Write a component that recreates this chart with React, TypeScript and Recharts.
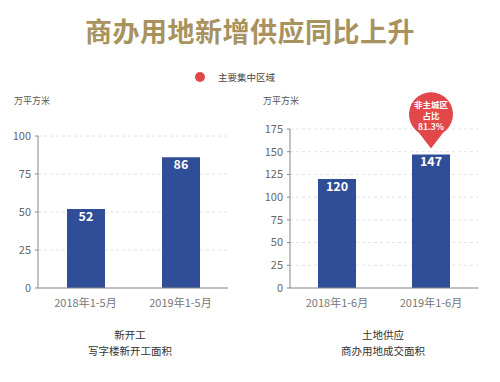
import React from "react";
import { BarChart, Bar, XAxis, YAxis, CartesianGrid, LabelList } from "recharts";

const leftCategories = ["2018年1-5月", "2019年1-5月"];
const leftValues = [52, 86];
const leftTicks = [0, 25, 50, 75, 100];

const rightCategories = ["2018年1-6月", "2019年1-6月"];
const rightValues = [120, 147];
const rightTicks = [0, 25, 50, 75, 100, 125, 150, 175];

const balloonLines = ["非主城区", "占比", "81.3%"];
const balloonIndex = 1;

const leftData = leftCategories.map((c, i) => ({ name: c, value: leftValues[i] }));
const rightData = rightCategories.map((c, i) => ({ name: c, value: rightValues[i] }));

const FONT = '"Noto Sans CJK SC", "Noto Sans", sans-serif';
const BAR = "#2f4e97";
const RED = "#e2474a";

const Balloon = (props: any) => {
  const { x, y, width, index } = props;
  if (index !== balloonIndex) return null;
  const cx = x + width / 2;
  const cy = y - 40;
  const r = 22;
  const tip = y - 6;
  const path = `M ${cx - r * 0.55} ${cy + r * 0.83} A ${r} ${r} 0 1 1 ${cx + r * 0.55} ${cy + r * 0.83} L ${cx} ${tip} Z`;
  return (
    <g>
      <path d={path} fill={RED} />
      {balloonLines.map((t, i) => (
        <text key={i} x={cx} y={cy - 9 + i * 11} textAnchor="middle" dominantBaseline="middle" fill="#fff" fontSize={8.5} fontWeight="bold" fontFamily={FONT}>
          {t}
        </text>
      ))}
    </g>
  );
};

const Panel = (p: { data: any[]; ticks: number[]; max: number; top: number; left: number; balloon?: boolean }) => (
  <div style={{ position: "absolute", left: p.left, top: 0 }}>
    <BarChart width={250} height={382} data={p.data} margin={{ top: p.top, right: 22, bottom: 64, left: 0 }} barCategoryGap="20%">
      <CartesianGrid vertical={false} stroke="#e2e2e2" strokeDasharray="3 3" />
      <XAxis dataKey="name" height={30} tickLine={false} axisLine={{ stroke: "#888" }} tick={{ fill: "#777", fontSize: 11, fontFamily: FONT }} tickMargin={5} interval={0} />
      <YAxis width={p.left === 0 ? 38 : 40} domain={[0, p.max]} ticks={p.ticks} tickSize={3} tickLine={{ stroke: "#888" }} axisLine={{ stroke: "#888" }} tick={{ fill: "#666", fontSize: 11, fontFamily: FONT }} tickMargin={4} interval={0} />
      <Bar dataKey="value" fill={BAR} barSize={38} isAnimationActive={false}>
        <LabelList dataKey="value" position="insideTop" offset={3} fill="#fff" fontSize={12.5} fontWeight="bold" fontFamily={FONT} />
        {p.balloon ? <LabelList dataKey="value" content={Balloon} /> : null}
      </Bar>
    </BarChart>
  </div>
);

export default function App() {
  return (
    <div style={{ position: "relative", width: 500, height: 382, background: "#fff", fontFamily: FONT, margin: -8 }}>
      <div style={{ position: "absolute", left: 0, top: 11, width: 500, textAlign: "center", fontSize: 27, fontWeight: "bold", color: "#a8925e", letterSpacing: 0.5 }}>
        商办用地新增供应同比上升
      </div>
      <div style={{ position: "absolute", left: 195, top: 70, display: "flex", alignItems: "center" }}>
        <span style={{ display: "inline-block", width: 10, height: 10, borderRadius: 5, background: RED }} />
        <span style={{ marginLeft: 13, fontSize: 9.5, color: "#444" }}>主要集中区域</span>
      </div>
      <div style={{ position: "absolute", left: 14, top: 94, fontSize: 9, color: "#555" }}>万平方米</div>
      <div style={{ position: "absolute", left: 263, top: 94, fontSize: 9, color: "#555" }}>万平方米</div>
      <Panel data={leftData} ticks={leftTicks} max={100} top={136} left={0} />
      <Panel data={rightData} ticks={rightTicks} max={175} top={129} left={250} balloon />
      <div style={{ position: "absolute", left: 30, top: 327, width: 200, textAlign: "center", fontSize: 10.5, color: "#333", lineHeight: "16px" }}>
        <div>新开工</div>
        <div>写字楼新开工面积</div>
      </div>
      <div style={{ position: "absolute", left: 283, top: 327, width: 200, textAlign: "center", fontSize: 10.5, color: "#333", lineHeight: "16px" }}>
        <div>土地供应</div>
        <div>商办用地成交面积</div>
      </div>
    </div>
  );
}
